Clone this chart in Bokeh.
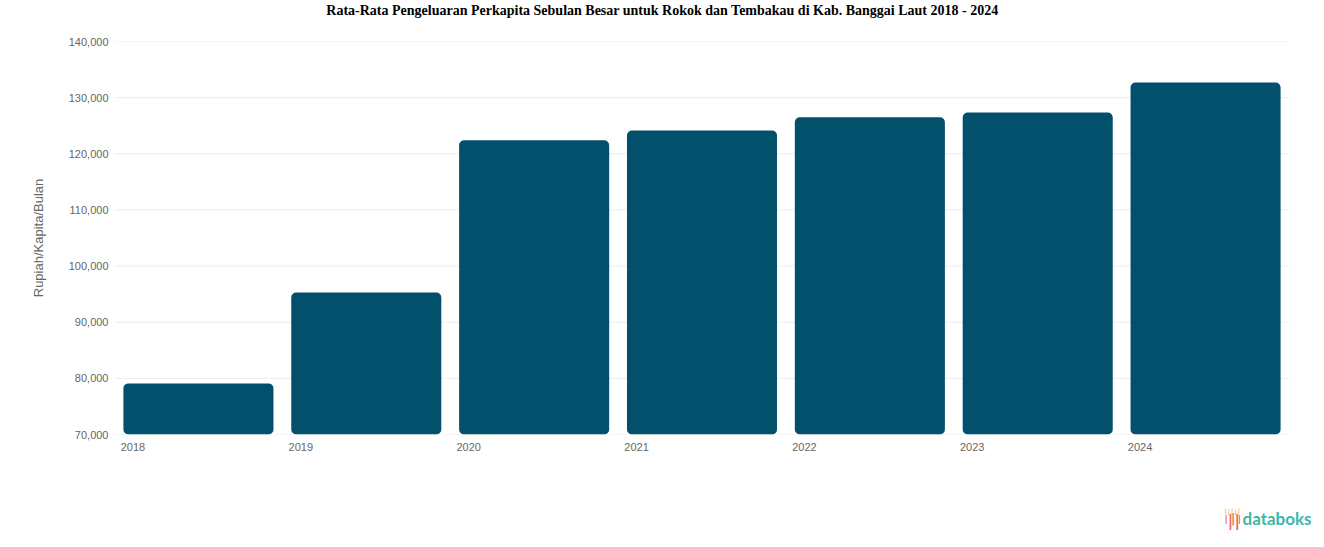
from bokeh.plotting import figure
from bokeh.layouts import column
from bokeh.models import FixedTicker, Label, NumeralTickFormatter, Range1d
from bokeh.embed import file_html
from bokeh.resources import INLINE

title = "Rata-Rata Pengeluaran Perkapita Sebulan Besar untuk Rokok dan Tembakau di Kab. Banggai Laut 2018 - 2024"
years = ["2018", "2019", "2020", "2021", "2022", "2023", "2024"]
values = [79100, 95300, 122400, 124150, 126500, 127350, 132700]
y_ticks = [70000, 80000, 90000, 100000, 110000, 120000, 130000, 140000]

xs = list(range(len(years)))

W = 1324
HEAD_H = 31
MAIN_TOP, FRAME_H, MAIN_BOTTOM = 10, 393, 46
FOOT_H = 547 - HEAD_H - (MAIN_TOP + FRAME_H + MAIN_BOTTOM)
FRAME_L = 114            # frame left (page px); frames of the column are aligned
PLOT_R = 1289            # right end of the plotting area (page px)
slot_px = (PLOT_R - FRAME_L) / len(years)
x_end = len(years) - 0.5 + (W - PLOT_R) / slot_px   # frame reaches the page edge


def blank(height):
    f = figure(width=W, height=height, output_backend="svg", toolbar_location=None,
               x_axis_location=None, y_axis_location=None,
               x_range=Range1d(0, 1), y_range=Range1d(0, 1),
               min_border=0, min_border_left=0, min_border_right=0,
               min_border_top=0, min_border_bottom=0)
    f.outline_line_color = None
    f.grid.visible = False
    return f


# ---- title strip (screen x is measured from the aligned frame's left edge)
head = blank(HEAD_H)
head.add_layout(Label(x=662 - FRAME_L, y=HEAD_H - 10, x_units="screen", y_units="screen",
                      text=title, text_align="center", text_baseline="middle",
                      text_font="Liberation Serif", text_font_size="14px",
                      text_font_style="bold", text_color="#000000"))

# ---- main chart
p = figure(width=W, height=MAIN_TOP + FRAME_H + MAIN_BOTTOM, output_backend="svg",
           toolbar_location=None,
           x_range=Range1d(-0.5, x_end), y_range=Range1d(70000, 140000),
           min_border_left=FRAME_L, min_border_right=0,
           min_border_top=MAIN_TOP, min_border_bottom=MAIN_BOTTOM)
p.outline_line_color = None
p.background_fill_color = "white"
p.grid.visible = False

# horizontal grid lines across the plotting area only
p.segment(x0=[-0.5] * len(y_ticks), x1=[len(years) - 0.5] * len(y_ticks),
          y0=y_ticks, y1=y_ticks, line_color="#ececec", line_width=1)

p.vbar(x=xs, top=values, bottom=70000, width=0.894, fill_color="#02506B",
       line_color=None, border_radius=5)

p.yaxis.ticker = FixedTicker(ticks=y_ticks)
p.yaxis.formatter = NumeralTickFormatter(format="0,0")
p.yaxis.axis_line_color = None
p.yaxis.major_tick_line_color = None
p.yaxis.major_tick_out = 0
p.yaxis.minor_tick_line_color = None
p.yaxis.minor_tick_out = 0
p.yaxis.major_label_text_color = "#666666"
p.yaxis.major_label_text_font = "Liberation Sans"
p.yaxis.major_label_text_font_size = "11px"
p.yaxis.major_label_standoff = 6
p.yaxis.axis_label = "Rupiah/Kapita/Bulan"
p.yaxis.axis_label_text_font = "Liberation Sans"
p.yaxis.axis_label_text_font_size = "13px"
p.yaxis.axis_label_text_font_style = "normal"
p.yaxis.axis_label_text_color = "#666666"
p.yaxis.axis_label_standoff = 20

tick_pos = [x - 0.39 for x in xs]
p.xaxis.ticker = FixedTicker(ticks=tick_pos)
p.xaxis.major_label_overrides = {t: y for t, y in zip(tick_pos, years)}
p.xaxis.axis_line_color = None
p.xaxis.major_tick_line_color = None
p.xaxis.major_tick_out = 0
p.xaxis.minor_tick_line_color = None
p.xaxis.minor_tick_out = 0
p.xaxis.major_label_text_color = "#666666"
p.xaxis.major_label_text_font = "Liberation Sans"
p.xaxis.major_label_text_font_size = "11px"
p.xaxis.major_label_standoff = 8

# ---- footer with databoks logo
foot = blank(FOOT_H)
logo_y = FOOT_H - (518 - (547 - FOOT_H))  # centre of logo at page y 518
stem_h = [9, 15, 12, 15, 9]
stem_dy = [0, -2, 0, -2, 0]
for i, (h, dy) in enumerate(zip(stem_h, stem_dy)):
    foot.add_layout(Label(x=1224 - FRAME_L + i * 3.3, y=logo_y + dy,
                          x_units="screen", y_units="screen",
                          text="|", text_color="#EF6A5A", text_font_size=f"{h}px",
                          text_baseline="middle", text_font="DejaVu Sans",
                          text_font_style="bold"))
    foot.add_layout(Label(x=1224 - FRAME_L + i * 3.3, y=logo_y + 8 - (i % 2) * 1,
                          x_units="screen", y_units="screen",
                          text="|", text_color="#F6A545", text_font_size="6px",
                          text_baseline="middle", text_font="DejaVu Sans",
                          text_font_style="bold"))
foot.add_layout(Label(x=1242 - FRAME_L, y=logo_y, x_units="screen", y_units="screen",
                      text="databoks", text_color="#3FB5A8", text_font="Lato",
                      text_baseline="middle", text_font_size="17px",
                      text_font_style="bold"))

layout = column(head, p, foot, spacing=0)
open("out.html", "w").write(file_html(layout, INLINE))
